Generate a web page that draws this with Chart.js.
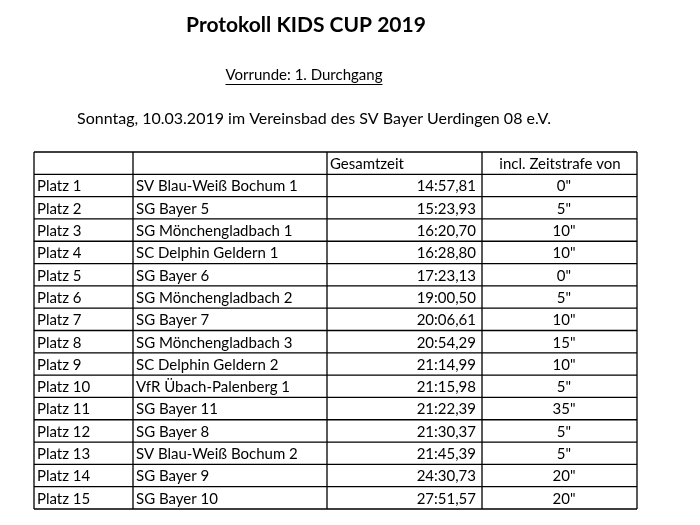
<!DOCTYPE html>
<html><head><meta charset="utf-8">
<script src="https://cdn.jsdelivr.net/npm/chart.js@4"></script>
<style>body{margin:0;background:#fff}#wrap{width:700px;height:525px}</style>
</head><body><div id="wrap"><canvas id="c"></canvas></div>
<script>
const places = ['Platz 1','Platz 2','Platz 3','Platz 4','Platz 5','Platz 6','Platz 7','Platz 8','Platz 9','Platz 10','Platz 11','Platz 12','Platz 13','Platz 14','Platz 15'];
const teams = ['SV Blau-Weiß Bochum 1','SG Bayer 5','SG Mönchengladbach 1','SC Delphin Geldern 1','SG Bayer 6','SG Mönchengladbach 2','SG Bayer 7','SG Mönchengladbach 3','SC Delphin Geldern 2','VfR Übach-Palenberg 1','SG Bayer 11','SG Bayer 8','SV Blau-Weiß Bochum 2','SG Bayer 9','SG Bayer 10'];
const times = ['14:57,81','15:23,93','16:20,70','16:28,80','17:23,13','19:00,50','20:06,61','20:54,29','21:14,99','21:15,98','21:22,39','21:30,37','21:45,39','24:30,73','27:51,57'];
const penalties = ['0"','5"','10"','10"','0"','5"','10"','15"','10"','5"','35"','5"','5"','20"','20"'];
const headers = ['', '', 'Gesamtzeit', 'incl. Zeitstrafe von'];

// column edges in table units (px from table left)
const colEdges = [0, 99, 293, 448, 603];
const FONT = 'Lato, "Open Sans", sans-serif';

const tablePlugin = {
  id: 'table',
  afterDraw(chart) {
    const ctx = chart.ctx, xs = chart.scales.x, ys = chart.scales.y;
    const X = v => xs.getPixelForValue(v), Y = v => ys.getPixelForValue(v);
    ctx.save();
    ctx.fillStyle = '#000';
    ctx.textBaseline = 'middle';
    // titles
    ctx.textAlign = 'center';
    ctx.font = 'bold 21px ' + FONT;
    ctx.fillText('Protokoll KIDS CUP 2019', 306, 25);
    ctx.font = '15px ' + FONT;
    ctx.fillText('Vorrunde: 1. Durchgang', 304, 75);
    const w = ctx.measureText('Vorrunde: 1. Durchgang').width;
    ctx.fillRect(304 - w / 2, 84, w, 1);
    ctx.font = '16px ' + FONT;
    ctx.fillText('Sonntag, 10.03.2019 im Vereinsbad des SV Bayer Uerdingen 08 e.V.', 314, 119);
    // grid
    ctx.strokeStyle = '#000';
    ctx.lineWidth = 1.3;
    ctx.beginPath();
    for (let r = 0; r <= 16; r++) { ctx.moveTo(X(0), Y(r)); ctx.lineTo(X(603), Y(r)); }
    colEdges.forEach(c => { ctx.moveTo(X(c), Y(0)); ctx.lineTo(X(c), Y(16)); });
    ctx.stroke();
    // header
    ctx.font = '15px ' + FONT;
    ctx.textAlign = 'left';
    ctx.fillText(headers[2], X(colEdges[2]) + 3, Y(0.5) + 1);
    ctx.textAlign = 'center';
    ctx.fillText(headers[3], X(526), Y(0.5) + 1);
    // rows
    places.forEach((p, i) => {
      const y = Y(i + 1.5) + 1;
      ctx.textAlign = 'left';
      ctx.fillText(p, X(colEdges[0]) + 3, y);
      ctx.fillText(teams[i], X(colEdges[1]) + 3, y);
      ctx.textAlign = 'right';
      ctx.fillText(times[i], X(colEdges[3]) - 6, y);
      ctx.textAlign = 'center';
      ctx.fillText(penalties[i], X(530), y);
    });
    ctx.restore();
  }
};

new Chart(document.getElementById('c'), {
  type: 'scatter',
  data: { datasets: [{ data: [] }] },
  options: {
    responsive: true, maintainAspectRatio: false, animation: false,
    layout: { padding: { left: 34, right: 63, top: 152, bottom: 16 } },
    plugins: { legend: { display: false }, tooltip: { enabled: false } },
    scales: {
      x: { type: 'linear', min: 0, max: 603, display: false },
      y: { type: 'linear', min: 0, max: 16, reverse: true, display: false }
    }
  },
  plugins: [tablePlugin]
});
</script></body></html>
